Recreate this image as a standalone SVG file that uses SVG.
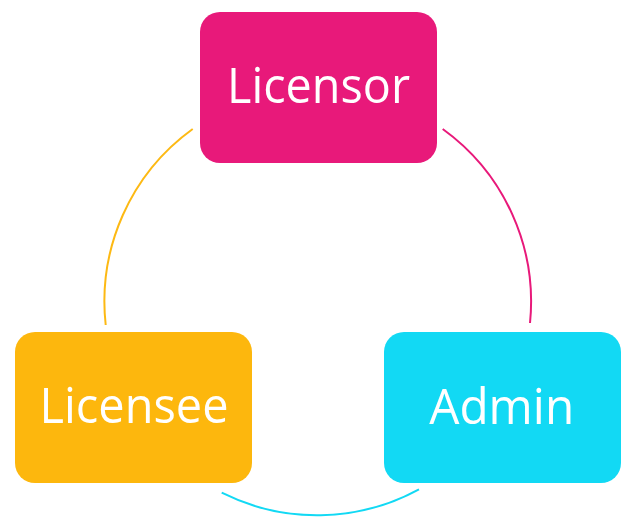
<svg xmlns="http://www.w3.org/2000/svg" width="626" height="519" viewBox="0 0 626 519">
<style>
.lbl{font-family:"Open Sans","Noto Sans","Liberation Sans",sans-serif;font-size:50px;fill:#ffffff;text-anchor:middle}
.arc{fill:none;stroke-width:2}
</style>
<rect width="626" height="519" fill="#ffffff"/>
<g id="connectors">
<path class="arc" stroke="#E8197A" d="M 442.7 129 A 213 213 0 0 1 530 323"/>
<path class="arc" stroke="#FDB913" d="M 192.7 129 A 213 213 0 0 0 105.7 325"/>
<path class="arc" stroke="#12D9F4" d="M 221.7 492.7 A 213 213 0 0 0 419 489.3"/>
</g>
<g id="licensor">
<rect x="200" y="12" width="237" height="151" rx="20" fill="#E8197A"/>
<text class="lbl" x="318.5" y="102.5" textLength="183" lengthAdjust="spacingAndGlyphs">Licensor</text>
</g>
<g id="licensee">
<rect x="15" y="332" width="237" height="151" rx="20" fill="#FDB70D"/>
<text class="lbl" x="134" y="422.5" textLength="189" lengthAdjust="spacingAndGlyphs">Licensee</text>
</g>
<g id="admin">
<rect x="384" y="332" width="237" height="151" rx="20" fill="#12D9F4"/>
<text class="lbl" x="501.7" y="423.5" textLength="145" lengthAdjust="spacingAndGlyphs">Admin</text>
</g>
</svg>
